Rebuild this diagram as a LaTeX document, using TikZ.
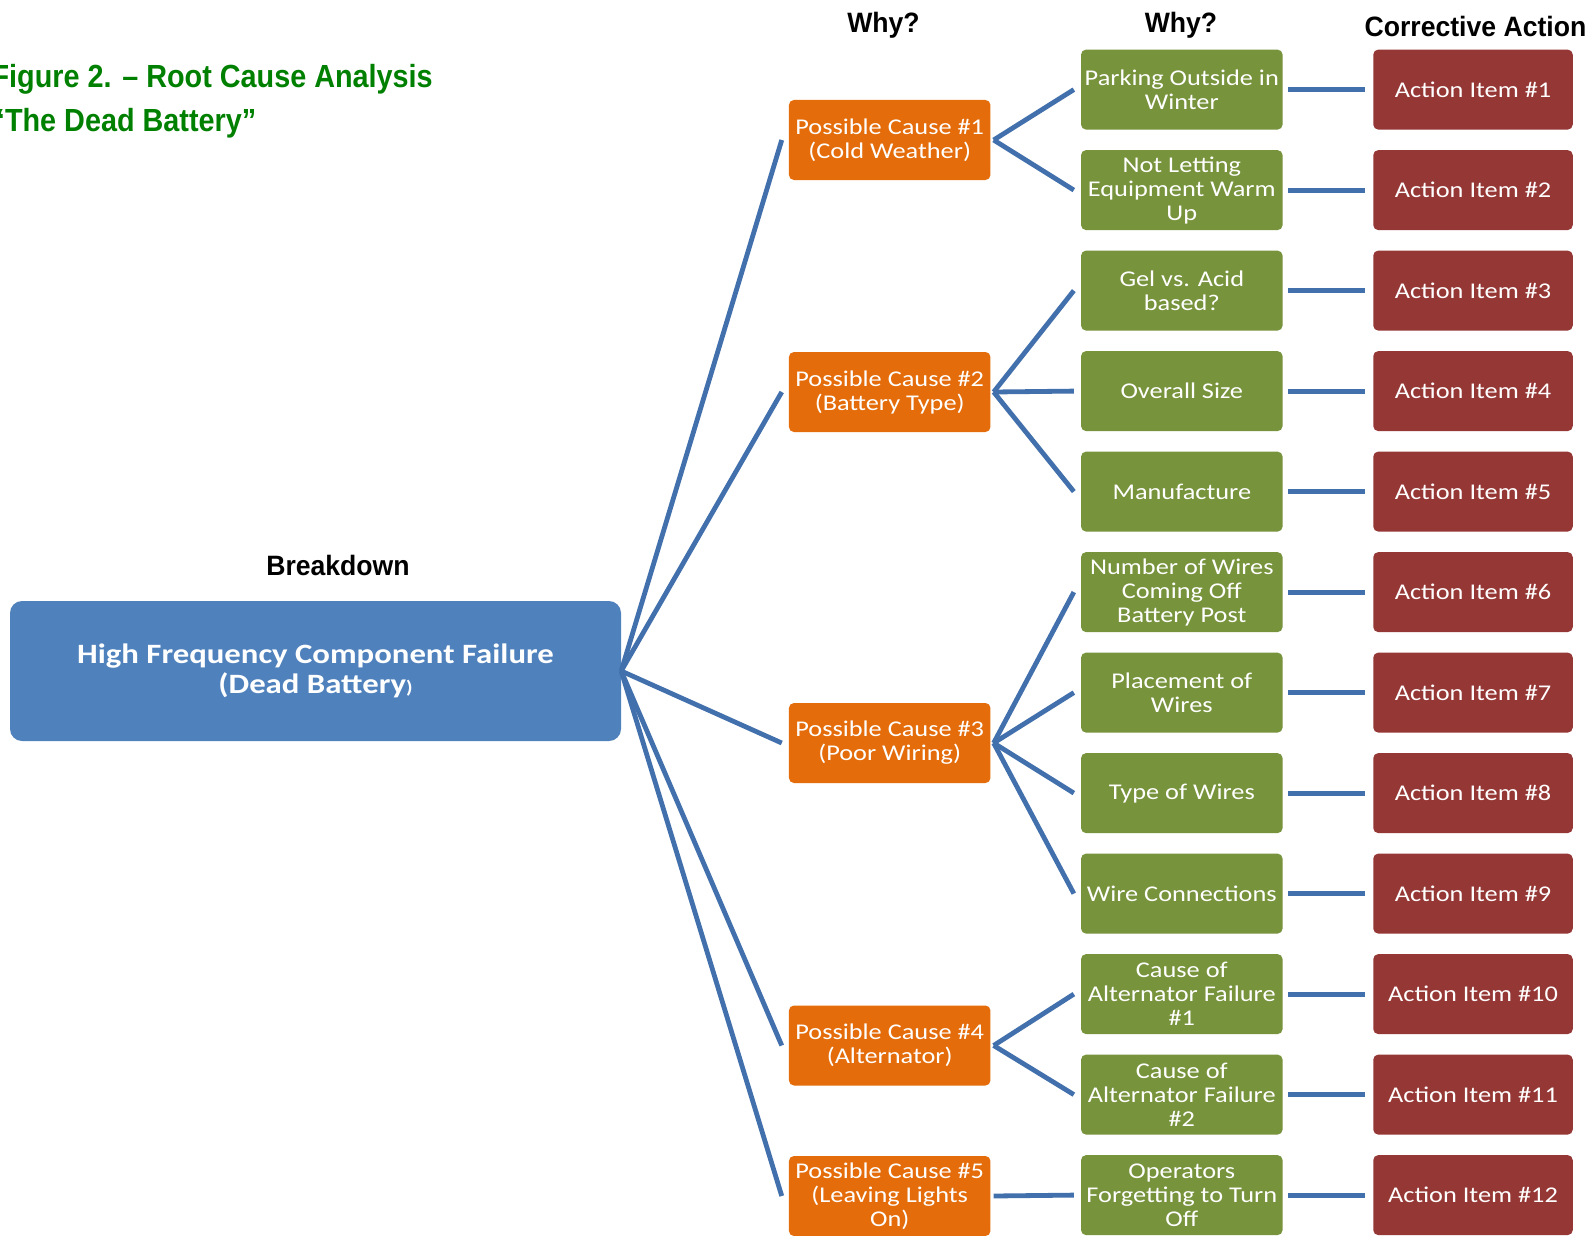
\documentclass[tikz,border=0pt]{standalone}
\usepackage{fontspec}
\newfontfamily\bxfont[FakeStretch=1.17]{Carlito}
\newfontfamily\hdfont[FakeStretch=0.95]{Liberation Sans}
\newfontfamily\ttlfont[FakeStretch=0.9]{Liberation Sans}
\definecolor{mainC}{HTML}{4F81BD}
\definecolor{orangeC}{HTML}{E46C0A}
\definecolor{greenC}{HTML}{77933C}
\definecolor{redC}{HTML}{953735}
\definecolor{lineC}{HTML}{4270AC}
\definecolor{titleC}{HTML}{008000}
\begin{document}
\begin{tikzpicture}[x=1pt,y=-1pt,
  basebox/.style={rounded corners=5pt, minimum width=201.5pt, minimum height=80pt, inner sep=0pt,
    align=center, text=white, font=\bxfont\fontsize{22.5}{24}\selectfont},
  causebox/.style={basebox, fill=orangeC},
  whybox/.style={basebox, fill=greenC},
  actbox/.style={basebox, fill=redC, minimum width=199.5pt},
  link/.style={draw=lineC, line width=4.8pt},
  hdr/.style={font=\hdfont\bfseries\fontsize{28}{30}\selectfont, inner sep=0pt},
  ttl/.style={font=\ttlfont\bfseries\fontsize{32}{34}\selectfont, text=titleC, inner sep=0pt, anchor=east}]
\useasboundingbox (0,0) rectangle (1596,1236);
\fill[white] (0,0) rectangle (1596,1236);

% titles and headers
\node[ttl] (t1) at (433,79) {Figure 2. – Root Cause Analysis};
\node[ttl] (t2) at (256.5,123) {“The Dead Battery”};
\node[hdr] (hb) at (338,565) {Breakdown};
\node[hdr] (hw1) at (883.5,25) {Why?};
\node[hdr] (hw2) at (1181,25) {Why?};
\node[hdr] (hca) at (1475.5,26) {Corrective Action};

% main box
\node[fill=mainC, rounded corners=12pt, minimum width=611pt, minimum height=140pt, inner sep=0pt,
  text=white, align=center, font=\bxfont\bfseries\fontsize{28}{30.5}\selectfont]
  (main) at (315.5,671) {High Frequency Component Failure\\(Dead Battery{\fontsize{18}{20}\selectfont)}};

% causes
\node[causebox] (c1) at (889.7,140) {Possible Cause \#1\\(Cold Weather)};
\node[causebox] (c2) at (889.7,392) {Possible Cause \#2\\(Battery Type)};
\node[causebox] (c3) at (889.7,743) {Possible Cause \#3\\(Poor Wiring)};
\node[causebox] (c4) at (889.7,1045.5) {Possible Cause \#4\\(Alternator)};
\node[causebox] (c5) at (889.7,1196) {Possible Cause \#5\\(Leaving Lights\\On)};

% why boxes
\node[whybox] (w1) at (1181.8,89.6) {Parking Outside in\\Winter};
\node[whybox] (w2) at (1181.8,190.1) {Not Letting\\Equipment Warm\\Up};
\node[whybox] (w3) at (1181.8,290.6) {Gel vs. Acid\\based?};
\node[whybox] (w4) at (1181.8,391.1) {Overall Size};
\node[whybox] (w5) at (1181.8,491.6) {Manufacture};
\node[whybox] (w6) at (1181.8,592.1) {Number of Wires\\Coming Off\\Battery Post};
\node[whybox] (w7) at (1181.8,692.6) {Placement of\\Wires};
\node[whybox] (w8) at (1181.8,793.1) {Type of Wires};
\node[whybox] (w9) at (1181.8,893.6) {Wire Connections};
\node[whybox] (w10) at (1181.8,994.1) {Cause of\\Alternator Failure\\\#1};
\node[whybox] (w11) at (1181.8,1094.6) {Cause of\\Alternator Failure\\\#2};
\node[whybox] (w12) at (1181.8,1195.1) {Operators\\Forgetting to Turn\\Off};

% action boxes
\foreach \i/\yy in {1/89.6,2/190.1,3/290.6,4/391.1,5/491.6,6/592.1,7/692.6,8/793.1,9/893.6,10/994.1,11/1094.6,12/1195.1}
  \node[actbox] (a\i) at (1473,\yy) {Action Item \#\i};

% connectors main -> causes
\foreach \c in {1,...,5}
  \draw[link] (main.east) -- ([xshift=-7pt]c\c.west);

% causes -> why
\foreach \c/\w in {1/1,1/2,2/3,2/4,2/5,3/6,3/7,3/8,3/9,4/10,4/11,5/12}
  \draw[link] ([xshift=3pt]c\c.east) -- ([xshift=-7pt]w\w.west);

% why -> actions
\foreach \i in {1,...,12}
  \draw[link] ([xshift=5pt]w\i.east) -- ([xshift=-8pt]a\i.west);
\end{tikzpicture}
\end{document}
